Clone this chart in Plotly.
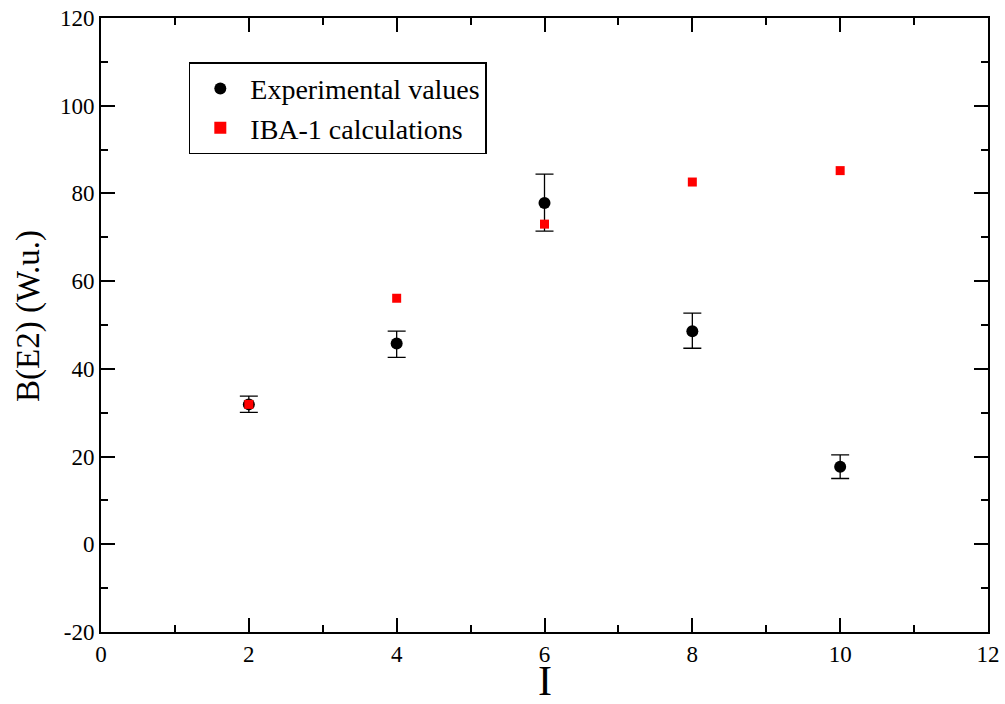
import plotly.graph_objects as go

spin = [2, 4, 6, 8, 10]
exp_values = [31.9, 45.8, 77.8, 48.6, 17.7]
exp_err_plus = [1.9, 2.8, 6.6, 4.1, 2.7]
exp_err_minus = [1.8, 3.2, 6.4, 3.9, 2.7]
iba_values = [31.9, 56.1, 73.0, 82.6, 85.2]

x_ticks = [0, 2, 4, 6, 8, 10, 12]
y_ticks = [-20, 0, 20, 40, 60, 80, 100, 120]

font_family = "Liberation Serif"

fig = go.Figure()
fig.add_trace(go.Scatter(
    x=spin, y=exp_values, mode="markers", name="Experimental values",
    marker=dict(symbol="circle", size=12, color="black"),
    error_y=dict(type="data", symmetric=False, array=exp_err_plus,
                 arrayminus=exp_err_minus, color="black", thickness=1.3, width=9),
))
fig.add_trace(go.Scatter(
    x=spin, y=iba_values, mode="markers", name="IBA-1 calculations",
    marker=dict(symbol="square", size=9, color="#ff0000"),
))

axis_common = dict(
    showgrid=False, zeroline=False, showline=True, linecolor="black", linewidth=2,
    mirror="ticks", ticks="inside", ticklen=14, tickwidth=1.5, tickcolor="black",
    tickfont=dict(family=font_family, size=23, color="black"),
    automargin=False,
)

fig.update_xaxes(
    range=[0, 12], tickvals=x_ticks, ticktext=[str(v) for v in x_ticks],
    minor=dict(dtick=1, ticks="inside", ticklen=7, tickwidth=1.5, tickcolor="black"),
    **axis_common,
)
fig.update_yaxes(
    range=[-20, 120], tickvals=y_ticks, ticktext=[str(v) for v in y_ticks],
    minor=dict(dtick=10, ticks="inside", ticklen=7, tickwidth=1.5, tickcolor="black"),
    **axis_common,
)

fig.add_annotation(
    text="I", xref="paper", yref="paper", x=0.5, y=-0.079, xanchor="center", yanchor="middle",
    showarrow=False, font=dict(family=font_family, size=42, color="black"),
)
fig.add_annotation(
    text="B(E2) (W.u.)", xref="paper", yref="paper", x=-0.081, y=0.515,
    xanchor="center", yanchor="middle", textangle=-90,
    showarrow=False, font=dict(family=font_family, size=33, color="black"),
)

fig.update_layout(
    width=1005, height=704,
    margin=dict(l=101, r=17, t=18, b=72, autoexpand=False),
    paper_bgcolor="white", plot_bgcolor="white",
    font=dict(family=font_family, color="black"),
    showlegend=True,
    legend=dict(
        x=0.099, y=0.928, xanchor="left", yanchor="top",
        bgcolor="white", bordercolor="black", borderwidth=1.5,
        font=dict(family=font_family, size=28, color="black"),
        itemsizing="constant", tracegroupgap=0, itemwidth=50,
    ),
)

fig.write_html(
    "out.html",
    config={"displayModeBar": False},
    post_script="document.body.style.margin='0';document.body.style.overflow='hidden';",
)
